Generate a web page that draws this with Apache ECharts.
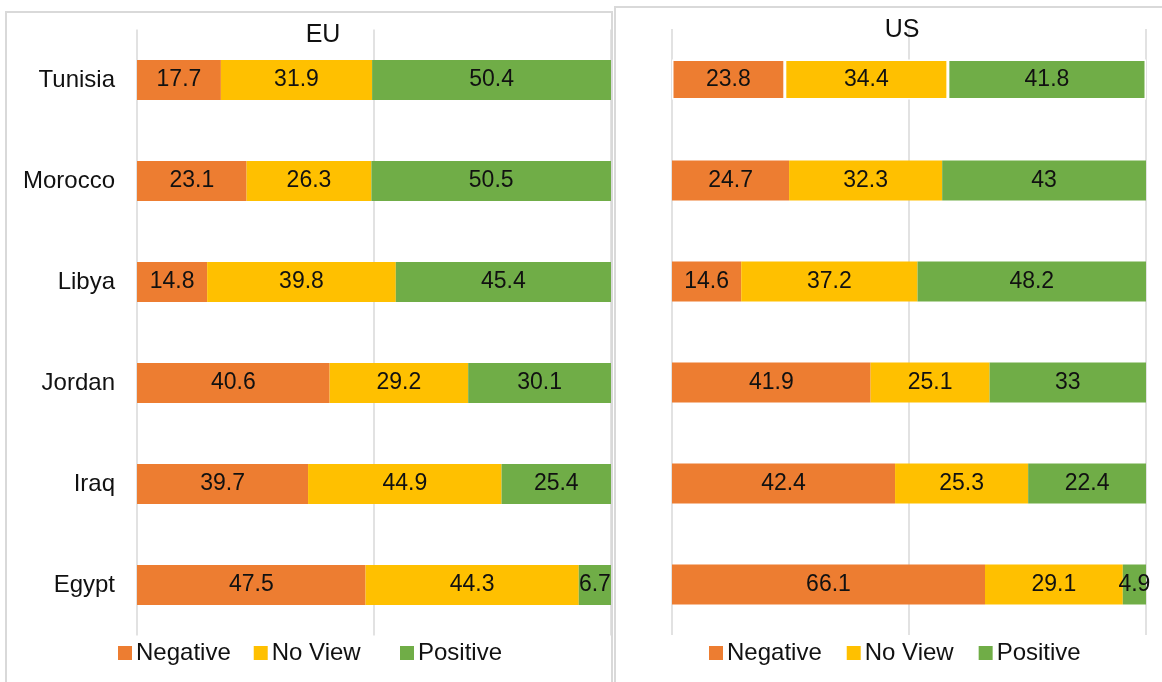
<!DOCTYPE html>
<html>
<head>
<meta charset="utf-8">
<script src="https://cdn.jsdelivr.net/npm/echarts@6/dist/echarts.min.js"></script>
<style>
  html, body { margin: 0; padding: 0; background: #fff; }
  #mainChart { width: 1162px; height: 682px; }
</style>
</head>
<body>
<div id="mainChart"></div>
<script>
var countries = ['Tunisia', 'Morocco', 'Libya', 'Jordan', 'Iraq', 'Egypt'];
var legends = ['Negative', 'No View', 'Positive'];
var colors = ['#ED7D31', '#FFC000', '#70AD47'];

var euNegative = [17.7, 23.1, 14.8, 40.6, 39.7, 47.5];
var euNoView = [31.9, 26.3, 39.8, 29.2, 44.9, 44.3];
var euPositive = [50.4, 50.5, 45.4, 30.1, 25.4, 6.7];

var usNegative = [23.8, 24.7, 14.6, 41.9, 42.4, 66.1];
var usNoView = [34.4, 32.3, 37.2, 25.1, 25.3, 29.1];
var usPositive = [41.8, 43, 48.2, 33, 22.4, 4.9];

var font = "'Liberation Sans', Arial, sans-serif";

// 100% stacked: each row is scaled to its own total, labels keep the raw numbers
function buildSeries(groups, gridIdx, splitRows) {
    var series = [];
    for (var s = 0; s < groups.length; s++) {
        var data = [];
        for (var i = 0; i < countries.length; i++) {
            var total = groups[0][i] + groups[1][i] + groups[2][i];
            var item = {value: groups[s][i] / total * 100, raw: groups[s][i]};
            if (splitRows.indexOf(i) >= 0) {
                item.itemStyle = {borderColor: '#fff', borderWidth: 1.5};
            }
            data.push(item);
        }
        series.push({
            name: legends[s],
            type: 'bar',
            stack: 'g' + gridIdx,
            xAxisIndex: gridIdx,
            yAxisIndex: gridIdx,
            barWidth: 40,
            itemStyle: {color: colors[s]},
            label: {
                show: true,
                position: 'inside',
                color: '#111',
                fontSize: 23,
                fontFamily: font,
                formatter: function (p) { return p.data.raw; }
            },
            data: data
        });
    }
    return series;
}

var series = buildSeries([euNegative, euNoView, euPositive], 0, [])
    .concat(buildSeries([usNegative, usNoView, usPositive], 1, [0]));

function valueAxis(idx) {
    return {
        type: 'value',
        gridIndex: idx,
        min: 0,
        max: 100,
        interval: 50,
        axisLabel: {show: false},
        axisLine: {show: false},
        axisTick: {show: false},
        splitLine: {show: true, lineStyle: {color: '#d9d9d9', width: 1.5}}
    };
}

function categoryAxis(idx, showLabels) {
    return {
        type: 'category',
        gridIndex: idx,
        inverse: true,
        data: countries,
        axisLine: {show: false},
        axisTick: {show: false},
        axisLabel: {show: showLabels, color: '#111', fontSize: 24, fontFamily: font, margin: 22}
    };
}

function legendAt(left, names, gap) {
    return {
        data: names,
        left: left,
        top: 641,
        padding: 0,
        itemGap: gap,
        icon: 'rect',
        itemWidth: 14,
        itemHeight: 14,
        textStyle: {fontSize: 24, color: '#111', fontFamily: font, padding: [0, 0, 0, -1]}
    };
}

var myChart = echarts.init(document.getElementById('mainChart'));
myChart.setOption({
    animation: false,
    textStyle: {fontFamily: font},
    graphic: [{
        type: 'rect',
        shape: {x: 6, y: 12, width: 606, height: 700},
        style: {fill: 'none', stroke: '#d9d9d9', lineWidth: 2},
        silent: true
    }, {
        type: 'rect',
        shape: {x: 615, y: 7, width: 560, height: 700},
        style: {fill: 'none', stroke: '#d9d9d9', lineWidth: 2},
        silent: true
    }],
    title: [{
        text: 'EU',
        left: 318,
        top: 18,
        textAlign: 'center',
        textStyle: {fontSize: 25, fontWeight: 'normal', color: '#111', fontFamily: font}
    }, {
        text: 'US',
        left: 897,
        top: 13,
        textAlign: 'center',
        textStyle: {fontSize: 25, fontWeight: 'normal', color: '#111', fontFamily: font}
    }],
    legend: [
        legendAt(118, legends.slice(0, 2), 23),
        legendAt(400, legends.slice(2), 0),
        legendAt(709, legends, 25)
    ],
    grid: [
        {left: 137, width: 474, top: 29.5, height: 606},
        {left: 672, width: 474, top: 29, height: 606}
    ],
    xAxis: [valueAxis(0), valueAxis(1)],
    yAxis: [categoryAxis(0, true), categoryAxis(1, false)],
    series: series
});
</script>
</body>
</html>
